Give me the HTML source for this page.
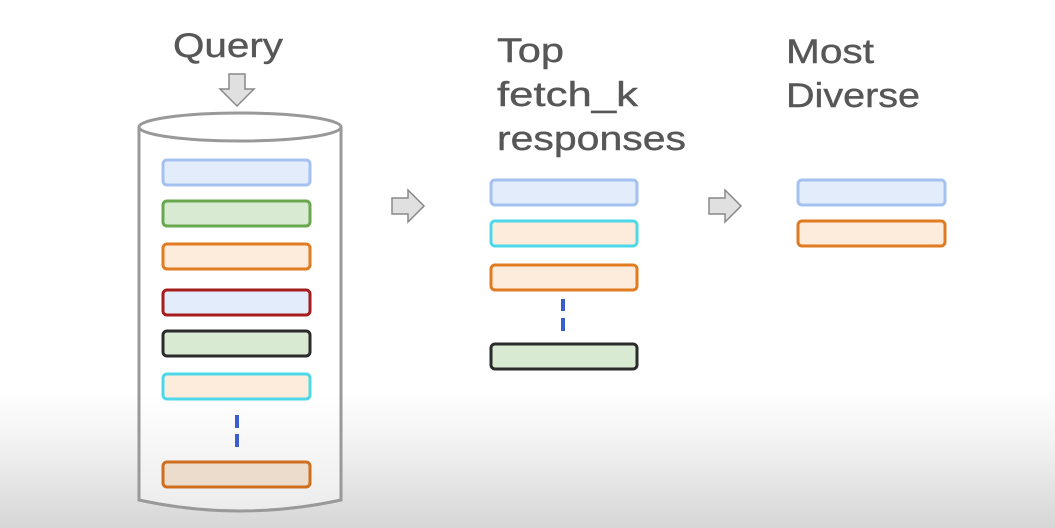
<!DOCTYPE html>
<html><head><style>
html,body{margin:0;padding:0;}
body{width:1055px;height:528px;overflow:hidden;background:linear-gradient(to bottom,#fff 0px,#fff 390px,#f0f0f0 450px,#d6d6d6 528px);}
svg{position:absolute;left:0;top:0;}
text{font-family:"Liberation Sans",sans-serif;fill:#575757;stroke:#575757;stroke-width:0.4;font-size:34px;}
</style></head><body>
<svg width="1055" height="528" viewBox="0 0 1055 528">
<defs><linearGradient id="cg" x1="0" y1="0" x2="0" y2="1"><stop offset="0" stop-color="#fff"/><stop offset="0.7" stop-color="#fff"/><stop offset="1" stop-color="#ececec"/></linearGradient></defs>
<text x="173" y="57" textLength="110" lengthAdjust="spacingAndGlyphs">Query</text>
<text x="497" y="62" textLength="67" lengthAdjust="spacingAndGlyphs">Top</text>
<text x="497" y="106" textLength="141" lengthAdjust="spacingAndGlyphs">fetch_k</text>
<text x="497" y="150" textLength="189" lengthAdjust="spacingAndGlyphs">responses</text>
<text x="786" y="63" textLength="88" lengthAdjust="spacingAndGlyphs">Most</text>
<text x="786" y="107" textLength="134" lengthAdjust="spacingAndGlyphs">Diverse</text>
<polygon points="229,74 245,74 245,89 254,89 237,106 220,89 229,89" fill="#e0e0e0" stroke="#888" stroke-width="1.5"/>
<path d="M139,127 L139,500 Q240,522 341,500 L341,127" fill="url(#cg)" stroke="#999" stroke-width="3"/>
<ellipse cx="240" cy="127" rx="101" ry="14" fill="#fff" stroke="#999" stroke-width="3"/>
<g stroke-width="3">
<rect x="163" y="160" width="147" height="25" rx="4" fill="#e3ecfb" stroke="#a4c1f0"/>
<rect x="163" y="201" width="147" height="25" rx="4" fill="#d9ead3" stroke="#6aa84f"/>
<rect x="163" y="244" width="147" height="25" rx="4" fill="#fdebdb" stroke="#e07b22"/>
<rect x="163" y="290" width="147" height="25" rx="4" fill="#e3ecfb" stroke="#a61c1c"/>
<rect x="163" y="331" width="147" height="25" rx="4" fill="#d9ead3" stroke="#2b2b2b"/>
<rect x="163" y="374" width="147" height="25" rx="4" fill="#fdebdb" stroke="#4dd8ea"/>
<rect x="163" y="462" width="147" height="25" rx="4" fill="#ecdccb" stroke="#cf6e1e"/>
<rect x="491" y="180" width="146" height="25" rx="4" fill="#e3ecfb" stroke="#a4c1f0"/>
<rect x="491" y="221" width="146" height="25" rx="4" fill="#fdebdb" stroke="#4dd8ea"/>
<rect x="491" y="265" width="146" height="25" rx="4" fill="#fdebdb" stroke="#e07b22"/>
<rect x="491" y="344" width="146" height="25" rx="4" fill="#d9ead3" stroke="#2b2b2b"/>
<rect x="798" y="180" width="147" height="25" rx="4" fill="#e3ecfb" stroke="#a4c1f0"/>
<rect x="798" y="221" width="147" height="25" rx="4" fill="#fdebdb" stroke="#e07b22"/>
</g>
<g fill="#3a5fcd">
<rect x="235" y="415" width="4" height="13"/><rect x="235" y="434" width="4" height="13"/>
<rect x="561" y="299" width="4" height="12"/><rect x="561" y="318" width="4" height="13"/>
</g>
<polygon points="392,198 408,198 408,190 424,206 408,222 408,214 392,214" fill="#e0e0e0" stroke="#888" stroke-width="1.5"/>
<polygon points="709,198 725,198 725,190 741,206 725,222 725,214 709,214" fill="#e0e0e0" stroke="#888" stroke-width="1.5"/>
</svg>
</body></html>
